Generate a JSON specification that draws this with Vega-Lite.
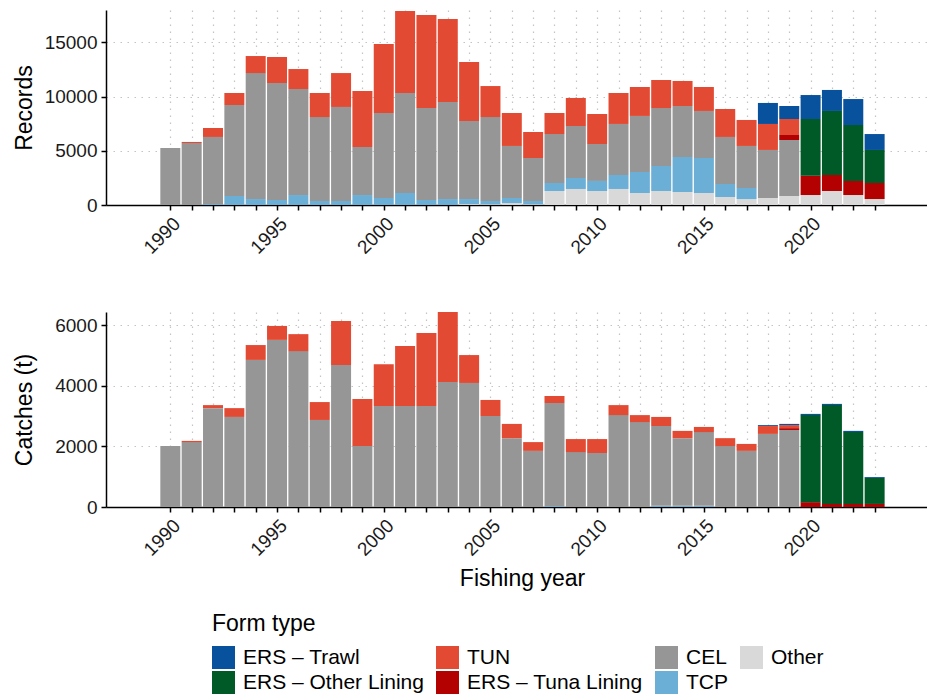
{
  "$schema": "https://vega.github.io/schema/vega-lite/v6.json",
  "padding": {"left": 12, "top": 10, "right": 0, "bottom": 0},
  "background": "white",
  "spacing": 54,
  "config": {
    "view": {"stroke": null},
    "font": "Liberation Sans",
    "axis": {
      "domainColor": "#000000", "domainWidth": 1.5,
      "tickColor": "#000000", "tickWidth": 1.5, "tickSize": 5,
      "labelColor": "#1a1a1a", "labelFont": "Liberation Sans", "labelFontSize": 19, "labelPadding": 4,
      "titleFont": "Liberation Sans", "titleFontSize": 23, "titleFontWeight": "normal", "titleColor": "#000000",
      "gridColor": "#c4c4c4", "gridDash": [1.5, 5.5], "gridWidth": 1.2
    }
  },
  "datasets": {
    "records": [
      {"year": 1990, "type": "CEL", "n": 5260},
      {"year": 1991, "type": "CEL", "n": 5720}, {"year": 1991, "type": "TUN", "n": 100},
      {"year": 1992, "type": "TCP", "n": 90}, {"year": 1992, "type": "CEL", "n": 6190}, {"year": 1992, "type": "TUN", "n": 830},
      {"year": 1993, "type": "TCP", "n": 830}, {"year": 1993, "type": "CEL", "n": 8400}, {"year": 1993, "type": "TUN", "n": 1110},
      {"year": 1994, "type": "TCP", "n": 550}, {"year": 1994, "type": "CEL", "n": 11630}, {"year": 1994, "type": "TUN", "n": 1570},
      {"year": 1995, "type": "TCP", "n": 460}, {"year": 1995, "type": "CEL", "n": 10800}, {"year": 1995, "type": "TUN", "n": 2400},
      {"year": 1996, "type": "TCP", "n": 920}, {"year": 1996, "type": "CEL", "n": 9790}, {"year": 1996, "type": "TUN", "n": 1840},
      {"year": 1997, "type": "TCP", "n": 370}, {"year": 1997, "type": "CEL", "n": 7750}, {"year": 1997, "type": "TUN", "n": 2220},
      {"year": 1998, "type": "TCP", "n": 370}, {"year": 1998, "type": "CEL", "n": 8680}, {"year": 1998, "type": "TUN", "n": 3130},
      {"year": 1999, "type": "TCP", "n": 920}, {"year": 1999, "type": "CEL", "n": 4430}, {"year": 1999, "type": "TUN", "n": 5170},
      {"year": 2000, "type": "TCP", "n": 650}, {"year": 2000, "type": "CEL", "n": 7840}, {"year": 2000, "type": "TUN", "n": 6370},
      {"year": 2001, "type": "TCP", "n": 1110}, {"year": 2001, "type": "CEL", "n": 9230}, {"year": 2001, "type": "TUN", "n": 7570},
      {"year": 2002, "type": "TCP", "n": 460}, {"year": 2002, "type": "CEL", "n": 8490}, {"year": 2002, "type": "TUN", "n": 8590},
      {"year": 2003, "type": "TCP", "n": 550}, {"year": 2003, "type": "CEL", "n": 8960}, {"year": 2003, "type": "TUN", "n": 7660},
      {"year": 2004, "type": "Other", "n": 80}, {"year": 2004, "type": "TCP", "n": 470}, {"year": 2004, "type": "CEL", "n": 7200}, {"year": 2004, "type": "TUN", "n": 5450},
      {"year": 2005, "type": "Other", "n": 60}, {"year": 2005, "type": "TCP", "n": 310}, {"year": 2005, "type": "CEL", "n": 7750}, {"year": 2005, "type": "TUN", "n": 2860},
      {"year": 2006, "type": "Other", "n": 180}, {"year": 2006, "type": "TCP", "n": 470}, {"year": 2006, "type": "CEL", "n": 4800}, {"year": 2006, "type": "TUN", "n": 3040},
      {"year": 2007, "type": "Other", "n": 60}, {"year": 2007, "type": "TCP", "n": 310}, {"year": 2007, "type": "CEL", "n": 3970}, {"year": 2007, "type": "TUN", "n": 2400},
      {"year": 2008, "type": "Other", "n": 1290}, {"year": 2008, "type": "TCP", "n": 740}, {"year": 2008, "type": "CEL", "n": 4520}, {"year": 2008, "type": "TUN", "n": 1940},
      {"year": 2009, "type": "Other", "n": 1480}, {"year": 2009, "type": "TCP", "n": 1010}, {"year": 2009, "type": "CEL", "n": 4800}, {"year": 2009, "type": "TUN", "n": 2590},
      {"year": 2010, "type": "Other", "n": 1290}, {"year": 2010, "type": "TCP", "n": 930}, {"year": 2010, "type": "CEL", "n": 3410}, {"year": 2010, "type": "TUN", "n": 2770},
      {"year": 2011, "type": "Other", "n": 1480}, {"year": 2011, "type": "TCP", "n": 1290}, {"year": 2011, "type": "CEL", "n": 4710}, {"year": 2011, "type": "TUN", "n": 2860},
      {"year": 2012, "type": "Other", "n": 1110}, {"year": 2012, "type": "TCP", "n": 1940}, {"year": 2012, "type": "CEL", "n": 5170}, {"year": 2012, "type": "TUN", "n": 2670},
      {"year": 2013, "type": "Other", "n": 1290}, {"year": 2013, "type": "TCP", "n": 2310}, {"year": 2013, "type": "CEL", "n": 5350}, {"year": 2013, "type": "TUN", "n": 2590},
      {"year": 2014, "type": "Other", "n": 1200}, {"year": 2014, "type": "TCP", "n": 3230}, {"year": 2014, "type": "CEL", "n": 4710}, {"year": 2014, "type": "TUN", "n": 2310},
      {"year": 2015, "type": "Other", "n": 1110}, {"year": 2015, "type": "TCP", "n": 3230}, {"year": 2015, "type": "CEL", "n": 4340}, {"year": 2015, "type": "TUN", "n": 2210},
      {"year": 2016, "type": "Other", "n": 740}, {"year": 2016, "type": "TCP", "n": 1200}, {"year": 2016, "type": "CEL", "n": 4340}, {"year": 2016, "type": "TUN", "n": 2580},
      {"year": 2017, "type": "Other", "n": 550}, {"year": 2017, "type": "TCP", "n": 1020}, {"year": 2017, "type": "CEL", "n": 3880}, {"year": 2017, "type": "TUN", "n": 2400},
      {"year": 2018, "type": "Other", "n": 650}, {"year": 2018, "type": "CEL", "n": 4430}, {"year": 2018, "type": "TUN", "n": 2400}, {"year": 2018, "type": "ERS – Trawl", "n": 1940},
      {"year": 2019, "type": "Other", "n": 830}, {"year": 2019, "type": "CEL", "n": 5170}, {"year": 2019, "type": "ERS – Tuna Lining", "n": 460}, {"year": 2019, "type": "TUN", "n": 1480}, {"year": 2019, "type": "ERS – Trawl", "n": 1200},
      {"year": 2020, "type": "Other", "n": 920}, {"year": 2020, "type": "ERS – Tuna Lining", "n": 1790}, {"year": 2020, "type": "ERS – Other Lining", "n": 5230}, {"year": 2020, "type": "ERS – Trawl", "n": 2210},
      {"year": 2021, "type": "Other", "n": 1290}, {"year": 2021, "type": "ERS – Tuna Lining", "n": 1480}, {"year": 2021, "type": "ERS – Other Lining", "n": 5910}, {"year": 2021, "type": "ERS – Trawl", "n": 1940},
      {"year": 2022, "type": "Other", "n": 920}, {"year": 2022, "type": "ERS – Tuna Lining", "n": 1300}, {"year": 2022, "type": "ERS – Other Lining", "n": 5160}, {"year": 2022, "type": "ERS – Trawl", "n": 2400},
      {"year": 2023, "type": "Other", "n": 550}, {"year": 2023, "type": "ERS – Tuna Lining", "n": 1480}, {"year": 2023, "type": "ERS – Other Lining", "n": 3050}, {"year": 2023, "type": "ERS – Trawl", "n": 1470}
    ],
    "catches": [
      {"year": 1990, "type": "CEL", "n": 2010},
      {"year": 1991, "type": "CEL", "n": 2140}, {"year": 1991, "type": "TUN", "n": 40},
      {"year": 1992, "type": "CEL", "n": 3260}, {"year": 1992, "type": "TUN", "n": 100},
      {"year": 1993, "type": "CEL", "n": 2970}, {"year": 1993, "type": "TUN", "n": 290},
      {"year": 1994, "type": "CEL", "n": 4850}, {"year": 1994, "type": "TUN", "n": 490},
      {"year": 1995, "type": "CEL", "n": 5510}, {"year": 1995, "type": "TUN", "n": 460},
      {"year": 1996, "type": "CEL", "n": 5140}, {"year": 1996, "type": "TUN", "n": 560},
      {"year": 1997, "type": "CEL", "n": 2870}, {"year": 1997, "type": "TUN", "n": 590},
      {"year": 1998, "type": "CEL", "n": 4680}, {"year": 1998, "type": "TUN", "n": 1450},
      {"year": 1999, "type": "CEL", "n": 2010}, {"year": 1999, "type": "TUN", "n": 1550},
      {"year": 2000, "type": "CEL", "n": 3330}, {"year": 2000, "type": "TUN", "n": 1380},
      {"year": 2001, "type": "CEL", "n": 3330}, {"year": 2001, "type": "TUN", "n": 1980},
      {"year": 2002, "type": "CEL", "n": 3330}, {"year": 2002, "type": "TUN", "n": 2410},
      {"year": 2003, "type": "CEL", "n": 4120}, {"year": 2003, "type": "TUN", "n": 2310},
      {"year": 2004, "type": "CEL", "n": 4090}, {"year": 2004, "type": "TUN", "n": 920},
      {"year": 2005, "type": "CEL", "n": 3000}, {"year": 2005, "type": "TUN", "n": 530},
      {"year": 2006, "type": "CEL", "n": 2270}, {"year": 2006, "type": "TUN", "n": 470},
      {"year": 2007, "type": "CEL", "n": 1850}, {"year": 2007, "type": "TUN", "n": 290},
      {"year": 2008, "type": "TCP", "n": 30}, {"year": 2008, "type": "CEL", "n": 3400}, {"year": 2008, "type": "TUN", "n": 230},
      {"year": 2009, "type": "CEL", "n": 1810}, {"year": 2009, "type": "TUN", "n": 430},
      {"year": 2010, "type": "CEL", "n": 1780}, {"year": 2010, "type": "TUN", "n": 460},
      {"year": 2011, "type": "CEL", "n": 3030}, {"year": 2011, "type": "TUN", "n": 330},
      {"year": 2012, "type": "CEL", "n": 2800}, {"year": 2012, "type": "TUN", "n": 230},
      {"year": 2013, "type": "TCP", "n": 40}, {"year": 2013, "type": "CEL", "n": 2630}, {"year": 2013, "type": "TUN", "n": 300},
      {"year": 2014, "type": "TCP", "n": 40}, {"year": 2014, "type": "CEL", "n": 2230}, {"year": 2014, "type": "TUN", "n": 240},
      {"year": 2015, "type": "TCP", "n": 40}, {"year": 2015, "type": "CEL", "n": 2430}, {"year": 2015, "type": "TUN", "n": 170},
      {"year": 2016, "type": "CEL", "n": 2010}, {"year": 2016, "type": "TUN", "n": 260},
      {"year": 2017, "type": "CEL", "n": 1850}, {"year": 2017, "type": "TUN", "n": 230},
      {"year": 2018, "type": "CEL", "n": 2410}, {"year": 2018, "type": "TUN", "n": 260}, {"year": 2018, "type": "ERS – Trawl", "n": 30},
      {"year": 2019, "type": "CEL", "n": 2540}, {"year": 2019, "type": "ERS – Tuna Lining", "n": 60}, {"year": 2019, "type": "TUN", "n": 100}, {"year": 2019, "type": "ERS – Trawl", "n": 40},
      {"year": 2020, "type": "ERS – Tuna Lining", "n": 160}, {"year": 2020, "type": "ERS – Other Lining", "n": 2870}, {"year": 2020, "type": "ERS – Trawl", "n": 40},
      {"year": 2021, "type": "ERS – Tuna Lining", "n": 100}, {"year": 2021, "type": "ERS – Other Lining", "n": 3260}, {"year": 2021, "type": "ERS – Trawl", "n": 40},
      {"year": 2022, "type": "ERS – Tuna Lining", "n": 100}, {"year": 2022, "type": "ERS – Other Lining", "n": 2370}, {"year": 2022, "type": "ERS – Trawl", "n": 40},
      {"year": 2023, "type": "ERS – Tuna Lining", "n": 100}, {"year": 2023, "type": "ERS – Other Lining", "n": 860}, {"year": 2023, "type": "ERS – Trawl", "n": 30}
    ]
  },
  "vconcat": [
    {
      "data": {"name": "records"},
      "width": 821,
      "height": 195,
      "transform": [
        {"calculate": "indexof(['Other','TCP','CEL','ERS – Tuna Lining','TUN','ERS – Other Lining','ERS – Trawl'], datum.type)", "as": "stackOrder"}
      ],
      "mark": {"type": "bar", "size": 20},
      "encoding": {
        "x": {
          "field": "year", "type": "quantitative",
          "scale": {"domain": [1987.22, 2025.22], "nice": false, "zero": false},
          "axis": {
            "title": null,
            "values": [1990,1991,1992,1993,1994,1995,1996,1997,1998,1999,2000,2001,2002,2003,2004,2005,2006,2007,2008,2009,2010,2011,2012,2013,2014,2015,2016,2017,2018,2019,2020,2021,2022,2023],
            "format": "d",
            "labelExpr": "datum.value % 5 == 0 ? datum.label : ''",
            "labelAngle": -45, "labelAlign": "right", "labelBaseline": "top",
            "labelOverlap": false, "labelFlush": false
          }
        },
        "y": {
          "field": "n", "type": "quantitative", "stack": "zero",
          "scale": {"domain": [0, 18000], "nice": false},
          "axis": {"title": "Records", "values": [0, 5000, 10000, 15000], "format": "d", "titleX": -75, "titleBaseline": "alphabetic"}
        },
        "color": {
          "field": "type", "type": "nominal",
          "scale": {
            "domain": ["ERS – Trawl", "TUN", "CEL", "Other", "ERS – Other Lining", "ERS – Tuna Lining", "TCP"],
            "range": ["#08519c", "#e34a33", "#969696", "#d9d9d9", "#005a28", "#b30000", "#6baed6"]
          },
          "legend": {
            "title": "Form type", "orient": "none", "legendX": 106, "legendY": 603,
            "direction": "horizontal", "columns": 4,
            "symbolType": "square", "symbolSize": 529, "symbolStrokeWidth": 0, "symbolOpacity": 1,
            "labelFont": "Liberation Sans", "labelFontSize": 21, "labelColor": "#000000", "labelOffset": 8, "labelLimit": 0,
            "titleFont": "Liberation Sans", "titleFontSize": 23, "titleFontWeight": "normal", "titleColor": "#000000", "titlePadding": 10,
            "columnPadding": 12, "rowPadding": 2
          }
        },
        "order": {"field": "stackOrder", "type": "quantitative"}
      }
    },
    {
      "data": {"name": "catches"},
      "width": 821,
      "height": 195,
      "transform": [
        {"calculate": "indexof(['Other','TCP','CEL','ERS – Tuna Lining','TUN','ERS – Other Lining','ERS – Trawl'], datum.type)", "as": "stackOrder"}
      ],
      "mark": {"type": "bar", "size": 20},
      "encoding": {
        "x": {
          "field": "year", "type": "quantitative",
          "scale": {"domain": [1987.22, 2025.22], "nice": false, "zero": false},
          "axis": {
            "title": "Fishing year", "titleX": 416, "titleY": 78, "titleBaseline": "alphabetic",
            "values": [1990,1991,1992,1993,1994,1995,1996,1997,1998,1999,2000,2001,2002,2003,2004,2005,2006,2007,2008,2009,2010,2011,2012,2013,2014,2015,2016,2017,2018,2019,2020,2021,2022,2023],
            "format": "d",
            "labelExpr": "datum.value % 5 == 0 ? datum.label : ''",
            "labelAngle": -45, "labelAlign": "right", "labelBaseline": "top",
            "labelOverlap": false, "labelFlush": false
          }
        },
        "y": {
          "field": "n", "type": "quantitative", "stack": "zero",
          "scale": {"domain": [0, 6430], "nice": false},
          "axis": {"title": "Catches (t)", "values": [0, 2000, 4000, 6000], "format": "d", "titleX": -75, "titleBaseline": "alphabetic"}
        },
        "color": {
          "field": "type", "type": "nominal",
          "scale": {
            "domain": ["ERS – Trawl", "TUN", "CEL", "Other", "ERS – Other Lining", "ERS – Tuna Lining", "TCP"],
            "range": ["#08519c", "#e34a33", "#969696", "#d9d9d9", "#005a28", "#b30000", "#6baed6"]
          },
          "legend": {
            "title": "Form type", "orient": "none", "legendX": 106, "legendY": 603,
            "direction": "horizontal", "columns": 4,
            "symbolType": "square", "symbolSize": 529, "symbolStrokeWidth": 0, "symbolOpacity": 1,
            "labelFont": "Liberation Sans", "labelFontSize": 21, "labelColor": "#000000", "labelOffset": 8, "labelLimit": 0,
            "titleFont": "Liberation Sans", "titleFontSize": 23, "titleFontWeight": "normal", "titleColor": "#000000", "titlePadding": 10,
            "columnPadding": 12, "rowPadding": 2
          }
        },
        "order": {"field": "stackOrder", "type": "quantitative"}
      }
    }
  ]
}
